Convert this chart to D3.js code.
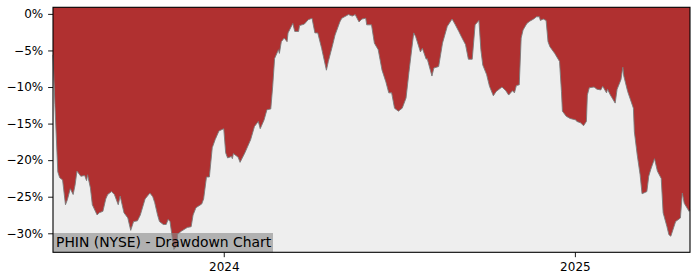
<!DOCTYPE html>
<html>
<head>
<meta charset="utf-8">
<script src="https://cdn.jsdelivr.net/npm/d3@7"></script>
<style>
    body { margin: 0; background: #fff; }
    svg { display: block; }
    .tick text { font-family: "DejaVu Sans", sans-serif; font-size: 12px; fill: #000; }
    .tick line { stroke: #000; stroke-width: 0.9; }
</style>
</head>
<body>
<div id="chart"></div>
<script>
// drawdown series (percent below the running high)
var dates = [
    "2023-07-07","2023-07-09","2023-07-12","2023-07-14","2023-07-17","2023-07-20","2023-07-22","2023-07-25",
    "2023-07-28","2023-07-30","2023-08-01","2023-08-05","2023-08-09","2023-08-11","2023-08-12","2023-08-15",
    "2023-08-17","2023-08-22","2023-08-24","2023-08-28","2023-08-31","2023-09-02","2023-09-06","2023-09-09",
    "2023-09-13","2023-09-15","2023-09-19","2023-09-23","2023-09-26","2023-09-29","2023-10-03","2023-10-06",
    "2023-10-11","2023-10-16","2023-10-19","2023-10-21","2023-10-24","2023-10-26","2023-10-30","2023-11-02",
    "2023-11-04","2023-11-06","2023-11-08","2023-11-10","2023-11-13","2023-11-14","2023-11-18","2023-11-24",
    "2023-11-28","2023-11-30","2023-12-03","2023-12-09","2023-12-11","2023-12-14","2023-12-17","2023-12-20",
    "2023-12-23","2023-12-27","2024-01-01","2024-01-03","2024-01-05","2024-01-09","2024-01-10","2024-01-11",
    "2024-01-16","2024-01-18","2024-01-23","2024-01-26","2024-01-29","2024-02-02","2024-02-06","2024-02-08",
    "2024-02-12","2024-02-15","2024-02-19","2024-02-21","2024-02-23","2024-02-27","2024-02-28","2024-03-01",
    "2024-03-04","2024-03-07","2024-03-08","2024-03-13","2024-03-15","2024-03-19","2024-03-20","2024-03-25",
    "2024-03-29","2024-04-02","2024-04-05","2024-04-08","2024-04-12","2024-04-17","2024-04-19","2024-04-23",
    "2024-04-26","2024-05-01","2024-05-03","2024-05-10","2024-05-14","2024-05-17","2024-05-21","2024-05-24",
    "2024-05-28","2024-05-29","2024-06-03","2024-06-06","2024-06-10","2024-06-14","2024-06-18","2024-06-21",
    "2024-06-24","2024-06-27","2024-07-01","2024-07-05","2024-07-09","2024-07-12","2024-07-17","2024-07-19",
    "2024-07-24","2024-07-26","2024-07-30","2024-07-31","2024-08-05","2024-08-07","2024-08-12","2024-08-16",
    "2024-08-21","2024-08-26","2024-08-29","2024-09-02","2024-09-05","2024-09-09","2024-09-12","2024-09-16",
    "2024-09-19","2024-09-23","2024-09-25","2024-09-27","2024-10-01","2024-10-04","2024-10-08","2024-10-11",
    "2024-10-17","2024-10-21","2024-10-24","2024-10-28","2024-10-30","2024-11-01","2024-11-04","2024-11-06",
    "2024-11-08","2024-11-12","2024-11-15","2024-11-19","2024-11-22","2024-11-25","2024-11-26","2024-11-29",
    "2024-12-02","2024-12-04","2024-12-06","2024-12-11","2024-12-16","2024-12-18","2024-12-19","2024-12-23",
    "2024-12-27","2025-01-02","2025-01-03","2025-01-07","2025-01-10","2025-01-13","2025-01-14","2025-01-16",
    "2025-01-21","2025-01-24","2025-01-28","2025-01-30","2025-02-03","2025-02-04","2025-02-07","2025-02-12",
    "2025-02-14","2025-02-18","2025-02-20","2025-02-21","2025-02-25","2025-03-03","2025-03-04","2025-03-07",
    "2025-03-10","2025-03-12","2025-03-17","2025-03-19","2025-03-21","2025-03-25","2025-03-28","2025-04-01",
    "2025-04-03","2025-04-07","2025-04-09","2025-04-11","2025-04-16","2025-04-21","2025-04-23","2025-04-25",
    "2025-04-30","2025-05-01"
];
var drawdown = [
    -5.6, -12.4, -21.6, -22.4, -22.7, -26.1, -25.4, -23.9,
    -24.7, -23.4, -21.5, -22.2, -22.1, -22.8, -22.0, -23.8,
    -26.1, -27.5, -27.2, -27.0, -25.3, -24.7, -24.3, -24.7,
    -26.1, -24.9, -27.2, -27.9, -29.6, -28.4, -28.3, -27.5,
    -25.3, -24.5, -25.0, -25.8, -27.5, -28.4, -28.8, -28.8,
    -28.1, -28.4, -30.3, -32.2, -31.7, -30.1, -29.7, -29.2,
    -29.1, -27.5, -26.5, -26.0, -25.3, -22.3, -22.3, -18.3,
    -17.2, -16.0, -15.7, -19.0, -19.7, -19.5, -19.8, -19.1,
    -19.6, -20.3, -19.0, -18.1, -17.2, -15.4, -14.7, -15.7,
    -14.5, -13.1, -13.0, -9.9, -6.1, -4.9, -5.4, -3.8,
    -3.3, -3.8, -2.6, -1.3, -2.4, -2.4, -1.6, -1.4,
    -0.8, -0.6, -2.6, -2.6, -4.7, -7.7, -6.5, -4.5,
    -2.9, -1.1, -0.6, -0.1, -0.3, -0.1, -1.1, -0.7,
    -0.6, -1.5, -1.5, -4.0, -4.9, -7.7, -9.3, -10.8,
    -10.8, -12.9, -13.3, -12.9, -11.5, -8.0, -2.6, -3.1,
    -5.2, -4.7, -6.2, -6.1, -8.5, -7.4, -7.2, -4.0,
    -1.7, -0.7, -1.4, -2.4, -3.2, -4.2, -6.2, -6.2,
    -1.5, -0.9, -4.9, -7.0, -8.3, -9.9, -11.2, -10.6,
    -10.0, -10.5, -11.1, -10.5, -10.8, -9.8, -9.7, -3.3,
    -2.2, -1.3, -1.0, -0.7, -0.4, -0.4, -0.9, -0.7,
    -0.9, -3.8, -4.5, -5.4, -6.5, -10.6, -13.3, -14.0,
    -14.3, -14.5, -14.7, -14.9, -15.3, -14.7, -11.1, -10.1,
    -10.0, -10.3, -10.4, -9.9, -10.8, -10.3, -11.1, -12.2,
    -10.3, -9.0, -7.3, -8.5, -10.6, -12.9, -16.1, -19.3,
    -22.0, -24.6, -24.3, -22.2, -21.3, -19.8, -21.5, -22.5,
    -27.2, -29.1, -30.2, -30.4, -28.4, -27.9, -24.5, -25.9,
    -27.0, -26.8
];
var yTicks = [0, -5, -10, -15, -20, -25, -30];
var yDomain = [-32.6, 0.9];
var chartLabel = "PHIN (NYSE) - Drawdown Chart";

var width = 700, height = 280;
var plotLeft = 53, plotRight = 690, plotTop = 7.3, plotBottom = 252.3;

var parseDate = d3.timeParse("%Y-%m-%d");
var data = dates.map(function(d, i) {
    return { date: parseDate(d), value: drawdown[i] };
});

var svg = d3.select("#chart")
            .append("svg")
            .attr("width", width)
            .attr("height", height);

var x = d3.scaleTime()
          .domain(d3.extent(data, d => d.date))
          .range([plotLeft, plotRight]);
var y = d3.scaleLinear()
          .domain(yDomain)
          .range([plotBottom, plotTop]);

// axes background
svg.append("rect")
   .attr("x", plotLeft)
   .attr("y", plotTop)
   .attr("width", plotRight - plotLeft)
   .attr("height", plotBottom - plotTop)
   .attr("fill", "#eeeeee");

// red area from the curve up to the top of the plot
var area = d3.area()
             .x(d => x(d.date))
             .y0(y(yDomain[1]))
             .y1(d => y(d.value));
svg.append("path")
   .datum(data)
   .attr("d", area)
   .attr("fill", "#b03030");

var line = d3.line()
             .x(d => x(d.date))
             .y(d => y(d.value));
svg.append("path")
   .datum(data)
   .attr("d", line)
   .attr("fill", "none")
   .attr("stroke", "#7a7a7a")
   .attr("stroke-width", 0.9);

// label in the lower left corner
svg.append("rect")
   .attr("x", plotLeft)
   .attr("y", 233)
   .attr("width", 220)
   .attr("height", plotBottom - 233)
   .attr("fill", "#888888")
   .attr("fill-opacity", 0.6);
svg.append("text")
   .attr("x", 56)
   .attr("y", 247)
   .attr("font-family", "DejaVu Sans, sans-serif")
   .attr("font-size", "13.9px")
   .attr("fill", "#000")
   .text(chartLabel);

// spines
svg.append("rect")
   .attr("x", plotLeft)
   .attr("y", plotTop)
   .attr("width", plotRight - plotLeft)
   .attr("height", plotBottom - plotTop)
   .attr("fill", "none")
   .attr("stroke", "#000")
   .attr("stroke-width", 1.1);

var yAxis = d3.axisLeft(y)
              .tickValues(yTicks)
              .tickSize(4.9)
              .tickPadding(4.9)
              .tickFormat(d => (d < 0 ? "\u2212" : "") + Math.abs(d) + "%");
svg.append("g")
   .attr("transform", `translate(${plotLeft},0)`)
   .call(yAxis)
   .call(g => g.select(".domain").remove());

var xAxis = d3.axisBottom(x)
              .ticks(d3.timeYear.every(1))
              .tickSize(4.9)
              .tickPadding(4.9)
              .tickFormat(d3.timeFormat("%Y"));
svg.append("g")
   .attr("transform", `translate(0,${plotBottom})`)
   .call(xAxis)
   .call(g => g.select(".domain").remove());
</script>
</body>
</html>
